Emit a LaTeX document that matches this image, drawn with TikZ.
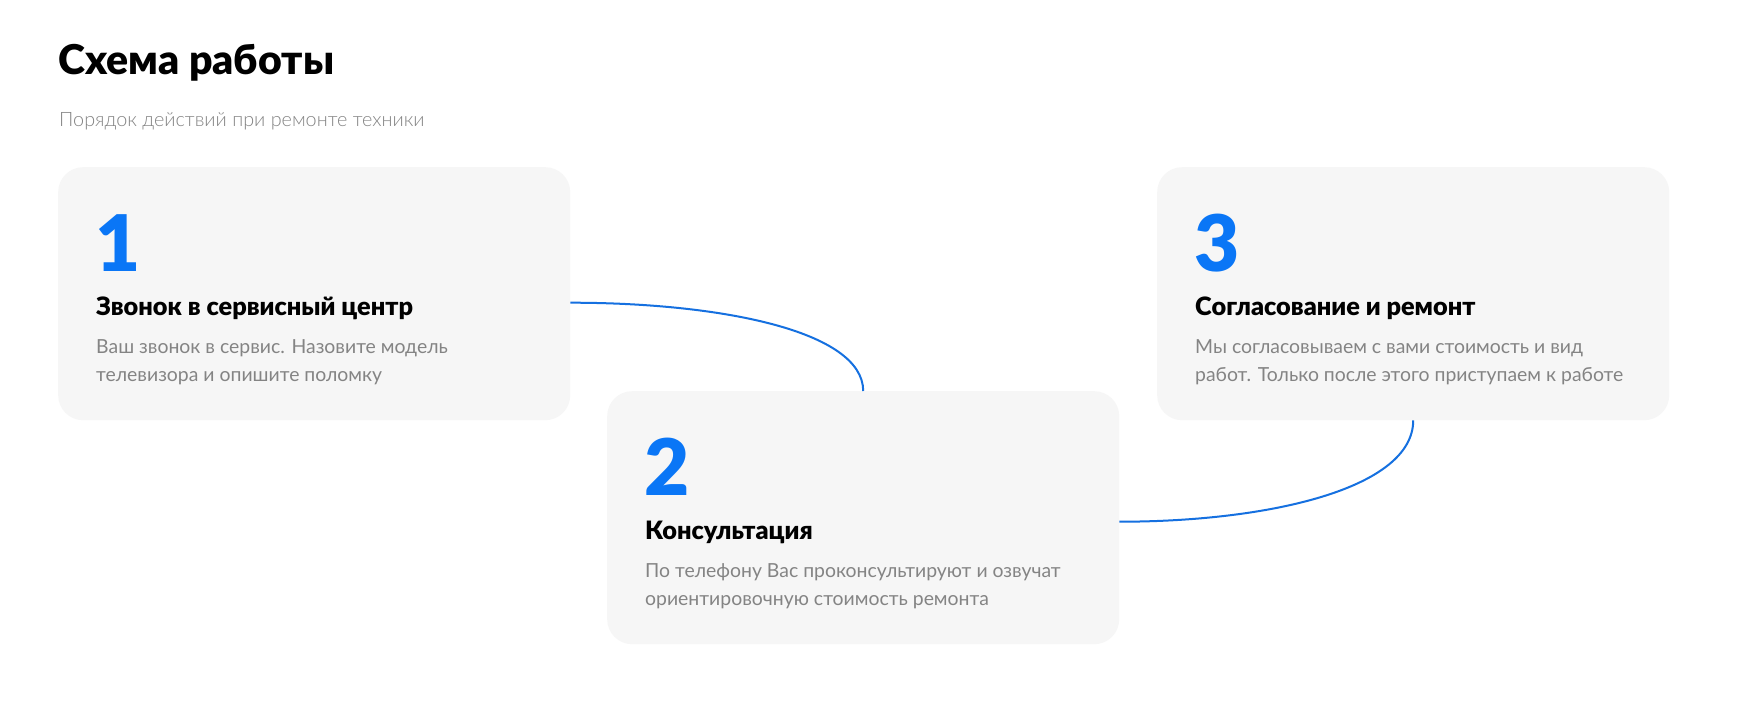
\documentclass[tikz,border=0pt]{standalone}
\usepackage{fontspec}
\setmainfont{Lato}
\newfontfamily\blackfont{Lato Black}
\newfontfamily\lightfont{Lato Light}
\definecolor{cardgray}{HTML}{F6F6F6}
\definecolor{numblue}{HTML}{0A76F6}
\definecolor{linkblue}{HTML}{1570E0}
\definecolor{textgray}{HTML}{848484}
\begin{document}
\begin{tikzpicture}[x=1pt, y=-1pt,
    card/.style={fill=cardgray, rounded corners=25pt, inner sep=0pt,
                 minimum width=512pt, minimum height=253pt, anchor=north west},
    stepnum/.style={anchor=base west, inner sep=0pt, text=numblue,
                 font=\blackfont\fontsize{78}{78}\selectfont},
    steptitle/.style={anchor=base west, inner sep=0pt, text=black,
                 font=\blackfont\fontsize{25.3}{25.3}\selectfont},
    stepbody/.style={anchor=north west, inner sep=0pt, text=textgray, align=left,
                 font=\fontsize{19.4}{27.5}\selectfont},
    link/.style={draw=linkblue, line width=2pt}]
    % фон и границы
    \fill[white] (0,0) rectangle (1745,707);
    \useasboundingbox (0,0) rectangle (1745,707);

    % заголовок
    \node[anchor=base west, inner sep=0pt, font=\blackfont\fontsize{41}{41}\selectfont]
        (head) at (58,74) {Схема работы};
    \node[anchor=base west, inner sep=0pt, text=textgray,
        font=\lightfont\fontsize{19.8}{19.8}\selectfont]
        (sub) at (59,126) {Порядок действий при ремонте техники};

    % карточки
    \node[card] (card1) at (58,167) {};
    \node[card] (card2) at (607,391) {};
    \node[card] (card3) at (1157,167) {};

    % шаг 1
    \path (card1.north west) ++(37,104) node[stepnum] (num1) {1};
    \path (card1.north west) ++(38,148) node[steptitle] (title1) {Звонок в сервисный центр};
    \path (card1.north west) ++(38,172.5) node[stepbody] (body1)
        {Ваш звонок в сервис. Назовите модель\\телевизора и опишите поломку};

    % шаг 2
    \path (card2.north west) ++(37,104) node[stepnum] (num2) {2};
    \path (card2.north west) ++(38,148) node[steptitle] (title2) {Консультация};
    \path (card2.north west) ++(38,172.5) node[stepbody] (body2)
        {По телефону Вас проконсультируют и озвучат\\ориентировочную стоимость ремонта};

    % шаг 3
    \path (card3.north west) ++(37,104) node[stepnum] (num3) {3};
    \path (card3.north west) ++(38,148) node[steptitle] (title3) {Согласование и ремонт};
    \path (card3.north west) ++(38,172.5) node[stepbody] (body3)
        {Мы согласовываем с вами стоимость и вид\\работ. Только после этого приступаем к работе};

    % соединительные линии
    \draw[link] ([yshift=-9pt]card1.east) .. controls +(150,0) and +(0,-60) .. (card2.north);
    \draw[link] ([yshift=-4pt]card2.east) .. controls +(150,0) and +(0,68) .. (card3.south);
\end{tikzpicture}
\end{document}
